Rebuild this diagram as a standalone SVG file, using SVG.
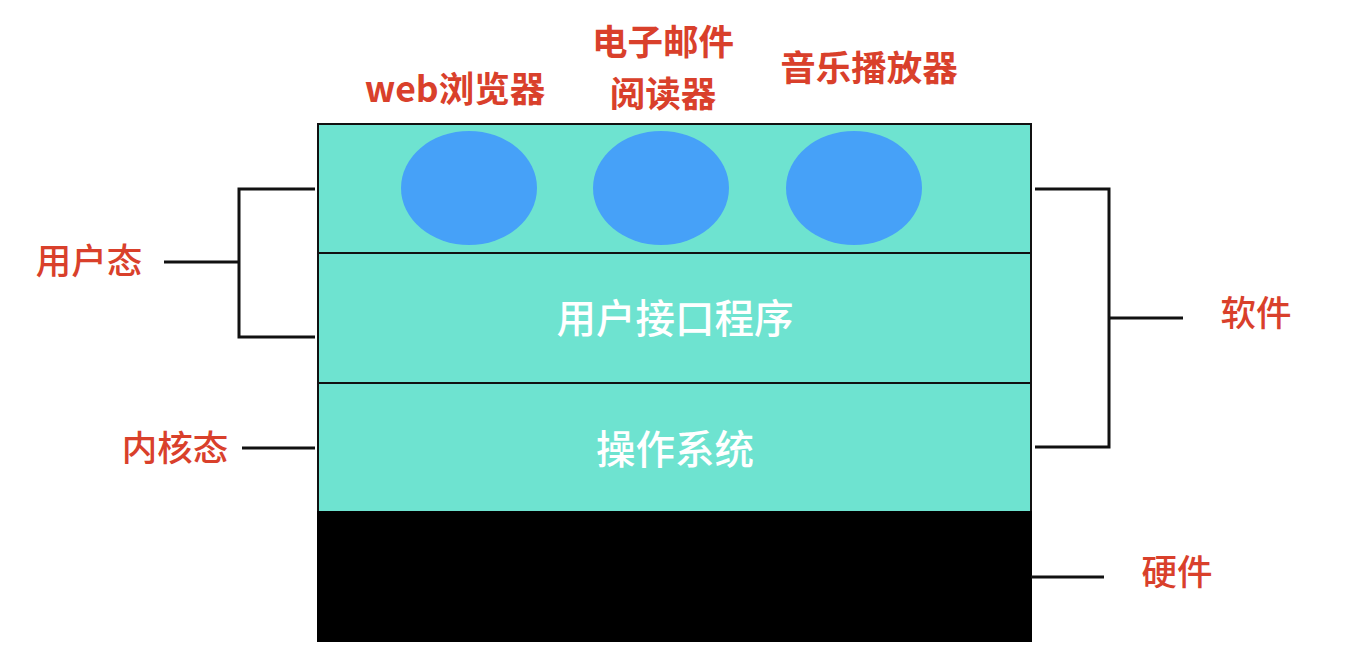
<svg xmlns="http://www.w3.org/2000/svg" width="1358" height="656" viewBox="0 0 1358 656">
<style>
.layer{fill:#6ee3d0;stroke:#111;stroke-width:2}
.hw{fill:#000;stroke:#000;stroke-width:2}
.app{fill:#46a1f8}
.lbl{font-family:"Noto Sans CJK SC","Noto Sans",sans-serif;fill:#d9402b;font-size:35.5px;font-weight:500;text-anchor:middle;dominant-baseline:central}
.top{font-weight:700}
.in{font-family:"Noto Sans CJK SC","Noto Sans",sans-serif;fill:#fff;font-size:39.5px;font-weight:500;text-anchor:middle;dominant-baseline:central}
.ln{stroke:#111;stroke-width:3;fill:none}
</style>
<rect width="1358" height="656" fill="#fff"/>
<g id="user-layer">
<rect class="layer" x="318" y="124" width="713" height="129"/>
</g>
<g id="app-web"><ellipse class="app" cx="469" cy="188" rx="68" ry="57"/></g>
<g id="app-mail"><ellipse class="app" cx="661" cy="188" rx="68" ry="57"/></g>
<g id="app-music"><ellipse class="app" cx="854" cy="188" rx="68" ry="57"/></g>
<g id="ui-layer">
<rect class="layer" x="318" y="253" width="713" height="130"/>
<text class="in" x="675" y="315">用户接口程序</text>
</g>
<g id="os-layer">
<rect class="layer" x="318" y="383" width="713" height="129"/>
<text class="in" x="675" y="446">操作系统</text>
</g>
<g id="hw-layer">
<rect class="hw" x="318" y="512" width="713" height="129"/>
</g>
<g id="connectors">
<polyline class="ln" points="315,189 239,189 239,337 315,337"/>
<line class="ln" x1="164" y1="262" x2="239" y2="262"/>
<line class="ln" x1="242" y1="448" x2="315" y2="448"/>
<polyline class="ln" points="1035,189 1109,189 1109,447 1035,447"/>
<line class="ln" x1="1109" y1="318" x2="1183" y2="318"/>
<line class="ln" x1="1031" y1="577" x2="1104" y2="577"/>
</g>
<g id="labels">
<text class="lbl top" x="455" y="86">web浏览器</text>
<text class="lbl top" x="663" y="39">电子邮件</text>
<text class="lbl top" x="663" y="91">阅读器</text>
<text class="lbl top" x="869" y="65">音乐播放器</text>
<text class="lbl" x="89" y="258">用户态</text>
<text class="lbl" x="175" y="445">内核态</text>
<text class="lbl" x="1256" y="310">软件</text>
<text class="lbl" x="1177" y="569">硬件</text>
</g>
</svg>
